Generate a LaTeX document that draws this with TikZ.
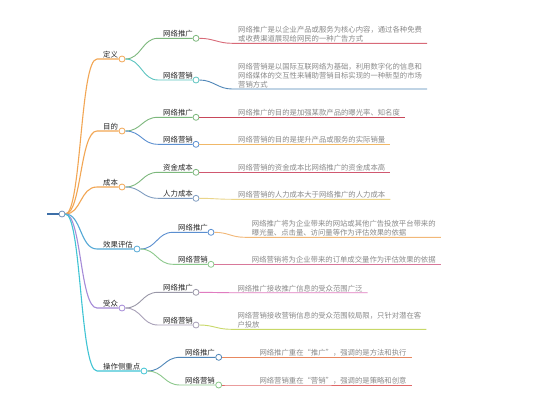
\documentclass[tikz,border=0pt]{standalone}
\usepackage{fontspec}
\newfontfamily\cjk{Noto Sans CJK SC}
\usetikzlibrary{calc}
\definecolor{rootc}{HTML}{3D6FA8}
\definecolor{orgc}{HTML}{F2A654}
\definecolor{effc}{HTML}{55A9D6}
\definecolor{audc}{HTML}{A58BD8}
\definecolor{opc}{HTML}{40C4D4}
\definecolor{grn}{HTML}{7DB87D}
\definecolor{teal2}{HTML}{5CC4C0}
\definecolor{blu2}{HTML}{5B8FD0}
\definecolor{gblu}{HTML}{7F9CC0}
\definecolor{gry2}{HTML}{9A98A8}
\definecolor{gpur}{HTML}{A8A0B8}
\definecolor{lgrn}{HTML}{8CC88C}
\definecolor{lred}{HTML}{D86A78}
\definecolor{sblu}{HTML}{4F86B8}
\definecolor{dred}{HTML}{C8485A}
\definecolor{oyel}{HTML}{F0B868}
\definecolor{pred}{HTML}{D05870}
\definecolor{yel}{HTML}{EAD58A}
\definecolor{lorg}{HTML}{F2B878}
\definecolor{pink}{HTML}{D8789A}
\definecolor{mag}{HTML}{E07CC0}
\definecolor{ygrn}{HTML}{C8D868}
\definecolor{ored}{HTML}{E88860}
\definecolor{red2}{HTML}{E06868}
\definecolor{leaftext}{HTML}{8A8A8A}
\definecolor{rootdot}{HTML}{6F8FB8}
\begin{document}
\begin{tikzpicture}[x=1pt,y=-1pt,
  dot/.style={circle,draw,fill=white,minimum size=6pt,inner sep=0pt,line width=0.8pt},
  lab/.style={font=\cjk\fontsize{7.4}{9}\selectfont,text=black!85,anchor=base west,inner sep=0pt},
  leaf/.style={font=\cjk\fontsize{7.35}{9}\selectfont,text=leaftext,anchor=base west,inner sep=0pt,align=left},
  eone/.style={line width=1.1pt},
  etwo/.style={line width=0.9pt}]
\useasboundingbox[fill=white] (0,0) rectangle (549,400);

% root
\node[dot,draw=rootdot] (root) at (62,214) {};
\coordinate (rs) at (47,214);
\draw[rootc,line width=1.5pt] (rs) -- (root.west);

% level 1
\node[dot,draw=orgc] (d) at (122,59) {};
\node[dot,draw=orgc] (m) at (122,131) {};
\node[dot,draw=orgc] (c) at (122,187) {};
\node[dot,draw=effc] (x) at (137,249) {};
\node[dot,draw=audc] (s) at (122,308) {};
\node[dot,draw=opc] (o) at (144,371) {};
\coordinate (d0) at (97,59);
\coordinate (m0) at (97,131);
\coordinate (c0) at (97,187);
\coordinate (x0) at (97,249);
\coordinate (s0) at (97,308);
\coordinate (o0) at (97,371);
\node[lab] (dl) at (103,57.5) {定义};
\node[lab] (ml) at (103,129.5) {目的};
\node[lab] (cl) at (103,185.5) {成本};
\node[lab] (xl) at (103,247.5) {效果评估};
\node[lab] (sl) at (103,306.5) {受众};
\node[lab] (ol) at (103,369.5) {操作侧重点};
\draw[eone,orgc] (root.east) .. controls +(16,0) and +(-17,0) .. (d0) -- (d.west);
\draw[eone,orgc] (root.east) .. controls +(16,0) and +(-17,0) .. (m0) -- (m.west);
\draw[eone,orgc] (root.east) .. controls +(16,0) and +(-17,0) .. (c0) -- (c.west);
\draw[eone,effc] (root.east) .. controls +(16,0) and +(-17,0) .. (x0) -- (x.west);
\draw[eone,audc] (root.east) .. controls +(16,0) and +(-17,0) .. (s0) -- (s.west);
\draw[eone,opc] (root.east) .. controls +(16,0) and +(-17,0) .. (o0) -- (o.west);

% level 2
\node[dot,draw=grn] (dp) at (196,38.3) {};
\node[dot,draw=teal2] (dm) at (196,80) {};
\node[dot,draw=grn] (mp) at (196,117.3) {};
\node[dot,draw=blu2] (mm) at (196,144.3) {};
\node[dot,draw=grn] (cz) at (196,172.3) {};
\node[dot,draw=gblu] (cr) at (196,198.3) {};
\node[dot,draw=blu2] (xp) at (211,232.3) {};
\node[dot,draw=lgrn] (xm) at (211,264.3) {};
\node[dot,draw=gry2] (sp) at (196,292.3) {};
\node[dot,draw=gpur] (sm) at (196,325) {};
\node[dot,draw=sblu] (op) at (218.7,357.3) {};
\node[dot,draw=lgrn] (om) at (218.7,385) {};
\coordinate (dp0) at (158,38.3);
\coordinate (dm0) at (158,80);
\coordinate (mp0) at (158,117.3);
\coordinate (mm0) at (158,144.3);
\coordinate (cz0) at (158,172.3);
\coordinate (cr0) at (158,198.3);
\coordinate (xp0) at (173,232.3);
\coordinate (xm0) at (173,264.3);
\coordinate (sp0) at (158,292.3);
\coordinate (sm0) at (158,325);
\coordinate (op0) at (180,357.3);
\coordinate (om0) at (180,385);
\node[lab] (dpl) at (163,36.8) {网络推广};
\node[lab] (dml) at (163,78.5) {网络营销};
\node[lab] (mpl) at (163,115.8) {网络推广};
\node[lab] (mml) at (163,142.8) {网络营销};
\node[lab] (czl) at (163,170.8) {资金成本};
\node[lab] (crl) at (163,196.8) {人力成本};
\node[lab] (xpl) at (178,230.8) {网络推广};
\node[lab] (xml) at (178,262.8) {网络营销};
\node[lab] (spl) at (163,290.8) {网络推广};
\node[lab] (sml) at (163,323.5) {网络营销};
\node[lab] (opl) at (185,355.8) {网络推广};
\node[lab] (oml) at (185,383.5) {网络营销};
\draw[etwo,grn] (d.east) .. controls +(16,0) and +(-16,0) .. (dp0) -- (dp.west);
\draw[etwo,teal2] (d.east) .. controls +(16,0) and +(-16,0) .. (dm0) -- (dm.west);
\draw[etwo,grn] (m.east) .. controls +(16,0) and +(-16,0) .. (mp0) -- (mp.west);
\draw[etwo,blu2] (m.east) .. controls +(16,0) and +(-16,0) .. (mm0) -- (mm.west);
\draw[etwo,grn] (c.east) .. controls +(16,0) and +(-16,0) .. (cz0) -- (cz.west);
\draw[etwo,gblu] (c.east) .. controls +(16,0) and +(-16,0) .. (cr0) -- (cr.west);
\draw[etwo,blu2] (x.east) .. controls +(16,0) and +(-16,0) .. (xp0) -- (xp.west);
\draw[etwo,lgrn] (x.east) .. controls +(16,0) and +(-16,0) .. (xm0) -- (xm.west);
\draw[etwo,gry2] (s.east) .. controls +(16,0) and +(-16,0) .. (sp0) -- (sp.west);
\draw[etwo,gpur] (s.east) .. controls +(16,0) and +(-16,0) .. (sm0) -- (sm.west);
\draw[etwo,sblu] (o.east) .. controls +(16,0) and +(-16,0) .. (op0) -- (op.west);
\draw[etwo,lgrn] (o.east) .. controls +(16,0) and +(-16,0) .. (om0) -- (om.west);

% leaves
\coordinate (dpa) at (232,43.3);
\coordinate (dma) at (232,89);
\coordinate (mpa) at (232,117.3);
\coordinate (mma) at (232,144.3);
\coordinate (cza) at (232,172.3);
\coordinate (cra) at (232,199.3);
\coordinate (xpa) at (245,237.3);
\coordinate (xma) at (245,264.3);
\coordinate (spa) at (231,292.7);
\coordinate (sma) at (231,329.3);
\coordinate (opa) at (253,357.3);
\coordinate (oma) at (253,385);
\node[leaf] (dpt) at (238,41.8) {网络推广是以企业产品或服务为核心内容，通过各种免费\\或收费渠道展现给网民的一种广告方式};
\node[leaf] (dmt) at (238,87.5) {网络营销是以国际互联网络为基础，利用数字化的信息和\\网络媒体的交互性来辅助营销目标实现的一种新型的市场\\营销方式};
\node[leaf] (mpt) at (238,115.8) {网络推广的目的是加强某款产品的曝光率、知名度};
\node[leaf] (mmt) at (238,142.8) {网络营销的目的是提升产品或服务的实际销量};
\node[leaf] (czt) at (238,170.8) {网络营销的资金成本比网络推广的资金成本高};
\node[leaf] (crt) at (238,197.8) {网络营销的人力成本大于网络推广的人力成本};
\node[leaf] (xpt) at (251.7,235.8) {网络推广将为企业带来的网站或其他广告投放平台带来的\\曝光量、点击量、访问量等作为评估效果的依据};
\node[leaf] (xmt) at (251.7,262.8) {网络营销将为企业带来的订单成交量作为评估效果的依据};
\node[leaf] (spt) at (237.3,291.2) {网络推广接收推广信息的受众范围广泛};
\node[leaf] (smt) at (237.3,327.8) {网络营销接收营销信息的受众范围较局限，只针对潜在客\\户投放};
\node[leaf] (opt) at (259.3,355.8) {网络推广重在“推广”，强调的是方法和执行};
\node[leaf] (omt) at (259.3,383.5) {网络营销重在“营销”，强调的是策略和创意};
\draw[etwo,lred] (dp.east) .. controls +(14,0) and +(-14,0) .. (dpa) -- ($(dpa -| dpt.east)+(5,0)$);
\draw[etwo,sblu] (dm.east) .. controls +(14,0) and +(-14,0) .. (dma) -- ($(dma -| dmt.east)+(5,0)$);
\draw[etwo,dred] (mp.east) .. controls +(14,0) and +(-14,0) .. (mpa) -- ($(mpa -| mpt.east)+(5,0)$);
\draw[etwo,oyel] (mm.east) .. controls +(14,0) and +(-14,0) .. (mma) -- ($(mma -| mmt.east)+(5,0)$);
\draw[etwo,pred] (cz.east) .. controls +(14,0) and +(-14,0) .. (cza) -- ($(cza -| czt.east)+(5,0)$);
\draw[etwo,yel] (cr.east) .. controls +(14,0) and +(-14,0) .. (cra) -- ($(cra -| crt.east)+(5,0)$);
\draw[etwo,lorg] (xp.east) .. controls +(14,0) and +(-14,0) .. (xpa) -- ($(xpa -| xpt.east)+(5,0)$);
\draw[etwo,pink] (xm.east) .. controls +(14,0) and +(-14,0) .. (xma) -- ($(xma -| xmt.east)+(5,0)$);
\draw[etwo,mag] (sp.east) .. controls +(14,0) and +(-14,0) .. (spa) -- ($(spa -| spt.east)+(5,0)$);
\draw[etwo,ygrn] (sm.east) .. controls +(14,0) and +(-14,0) .. (sma) -- ($(sma -| smt.east)+(5,0)$);
\draw[etwo,ored] (op.east) .. controls +(14,0) and +(-14,0) .. (opa) -- ($(opa -| opt.east)+(5,0)$);
\draw[etwo,red2] (om.east) .. controls +(14,0) and +(-14,0) .. (oma) -- ($(oma -| omt.east)+(5,0)$);
\end{tikzpicture}
\end{document}
